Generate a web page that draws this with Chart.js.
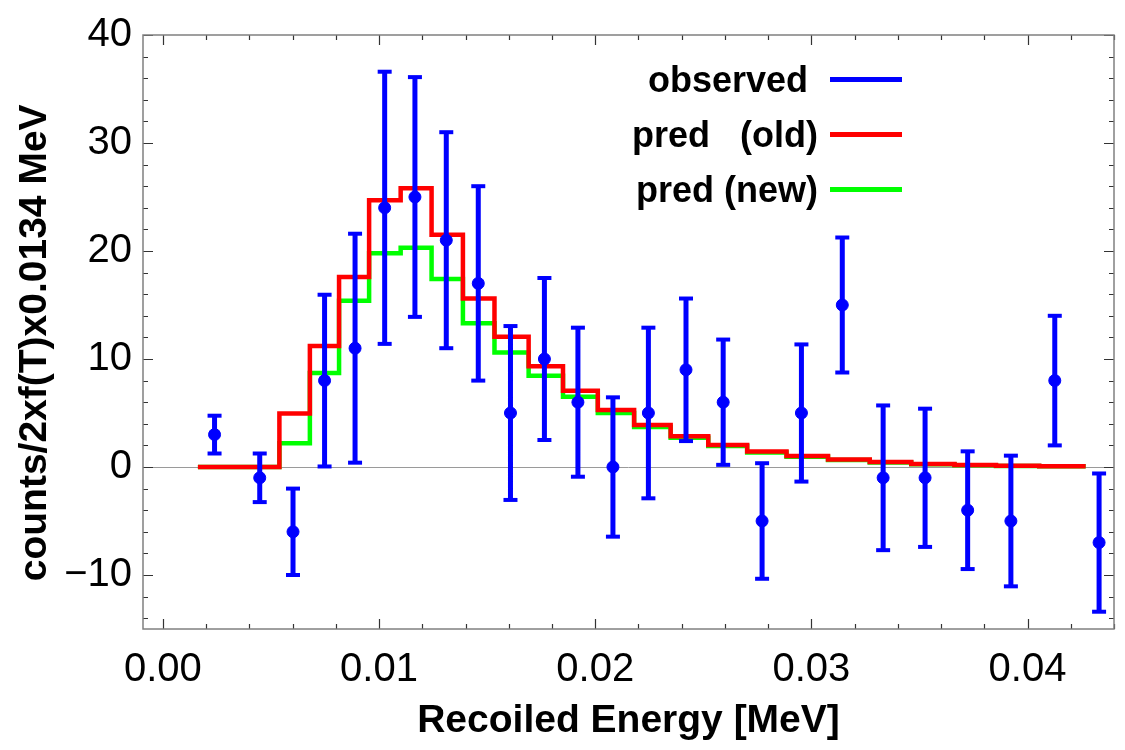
<!DOCTYPE html>
<html>
<head>
<meta charset="utf-8">
<title>Recoiled energy spectrum</title>
<script src="https://cdn.jsdelivr.net/npm/chart.js@4.4.1/dist/chart.umd.min.js"></script>
<style>
  body { margin: 0; background: #fff; }
  #wrap { position: relative; width: 1125px; height: 750px; }
  #legend {
    position: absolute; left: 520px; top: 52px; width: 382px;
    font: bold 36px "Liberation Sans", Arial, sans-serif; color: #000;
  }
  .row { display: flex; justify-content: flex-end; align-items: center; height: 55px; white-space: pre; }
  .swatch { width: 72px; height: 5px; margin-left: 12px; }
</style>
</head>
<body>
<div id="wrap">
  <canvas id="spectrum" width="1125" height="750"></canvas>
  <div id="legend"></div>
</div>
<script>
// observed counts per bin (centre energy in MeV) with their error bars
const obsEnergy = [0.00239, 0.00448, 0.00602, 0.00748, 0.00889, 0.01026, 0.01166, 0.01311, 0.01459, 0.01608,
                   0.01765, 0.0192, 0.02082, 0.02246, 0.0242, 0.02592, 0.02772, 0.02954, 0.03143, 0.03332,
                   0.03526, 0.03723, 0.03923, 0.04126, 0.04331];
const obsCounts = [3, -1, -6, 8, 11, 24, 25, 21, 17, 5, 10, 6, 0, 5, 9, 6, -5, 5, 15, -1, -1, -4, -5, 8, -7];
const obsError  = [1.75, 2.25, 4, 7.95, 10.6, 12.6, 11.1, 10, 9, 8.05, 7.5, 6.9, 6.45, 7.9, 6.6, 5.8, 5.35,
                   6.35, 6.25, 6.7, 6.4, 5.45, 6.05, 6, 6.4];

// predictions, one value per bin between consecutive edges
const binEdges = [0.00162, 0.00343, 0.00539, 0.0068, 0.00815, 0.00954, 0.011, 0.01243, 0.01388, 0.01534,
                  0.01692, 0.01851, 0.02012, 0.0218, 0.02349, 0.02523, 0.02703, 0.02885, 0.03077, 0.0327,
                  0.03462, 0.03662, 0.03854, 0.04054, 0.04269];
const predOld = [0, 0, 4.95, 11.2, 17.6, 24.7, 25.8, 21.5, 15.6, 12.06, 9.34, 7.06, 5.27, 3.88, 2.85, 2.03,
                 1.43, 1.03, 0.7, 0.46, 0.28, 0.18, 0.12, 0.08];
const predNew = [0, 0, 2.2, 8.7, 15.4, 19.8, 20.3, 17.4, 13.3, 10.6, 8.45, 6.5, 5.0, 3.7, 2.7, 1.95, 1.35,
                 0.95, 0.65, 0.42, 0.26, 0.16, 0.1, 0.06];

const xMajorTicks = [0, 0.01, 0.02, 0.03, 0.04];
const yMajorTicks = [-10, 0, 10, 20, 30, 40];

const BLUE = 'rgb(0,0,255)', RED = 'rgb(255,0,0)', GREEN = 'rgb(0,255,0)';

// helpers to turn the arrays into chart points
function stepPoints(values) {
  const pts = values.map((v, i) => ({ x: binEdges[i], y: v }));
  pts.push({ x: binEdges[values.length], y: values[values.length - 1] });
  return pts;
}

function errorPoints() {
  const pts = [];
  obsEnergy.forEach((e, i) => {
    pts.push({ x: e, y: obsCounts[i] - obsError[i] });
    pts.push({ x: e, y: obsCounts[i] + obsError[i] });
    pts.push({ x: e, y: null });  // break the line between bars
  });
  return pts;
}

const isIn = (list, v) => list.some(t => Math.abs(t - v) < 1e-9);

// Mathematica-style frame with inward ticks on all four sides
const frameTicks = {
  id: 'frameTicks',
  beforeDatasetsDraw(chart) {
    const { ctx, chartArea: a, scales: { x, y } } = chart;
    ctx.save();
    ctx.strokeStyle = '#333';
    ctx.lineWidth = 1.2;
    ctx.beginPath();
    for (let i = Math.ceil(x.min / 0.002); i * 0.002 <= x.max + 1e-9; i++) {
      const px = Math.round(x.getPixelForValue(i * 0.002)) + 0.5;
      const len = i % 5 === 0 ? 10 : 5;
      ctx.moveTo(px, a.bottom); ctx.lineTo(px, a.bottom - len);
      ctx.moveTo(px, a.top); ctx.lineTo(px, a.top + len);
    }
    for (let j = Math.ceil(y.min / 2); j * 2 <= y.max; j++) {
      const py = Math.round(y.getPixelForValue(j * 2)) + 0.5;
      const len = j % 5 === 0 ? 10 : 5;
      ctx.moveTo(a.left, py); ctx.lineTo(a.left + len, py);
      ctx.moveTo(a.right, py); ctx.lineTo(a.right - len, py);
    }
    ctx.stroke();
    ctx.strokeStyle = '#808080';
    ctx.lineWidth = 1.5;
    ctx.strokeRect(a.left, a.top, a.right - a.left, a.bottom - a.top);
    ctx.restore();
  }
};

Chart.defaults.font.family = '"Liberation Sans", Arial, sans-serif';
Chart.defaults.color = '#000';

const ctx = document.getElementById('spectrum').getContext('2d');
const spectrumChart = new Chart(ctx, {
  type: 'line',
  data: {
    datasets: [
      {
        label: 'observed',
        data: obsEnergy.map((e, i) => ({ x: e, y: obsCounts[i] })),
        showLine: false,
        pointRadius: 6,
        pointBackgroundColor: BLUE,
        pointBorderColor: BLUE,
        borderColor: BLUE
      },
      {
        label: 'errors',
        data: errorPoints(),
        borderColor: BLUE,
        borderWidth: 5,
        spanGaps: false,
        pointStyle: 'line',
        pointRadius: 7,
        pointBorderWidth: 4,
        pointBorderColor: BLUE
      },
      {
        label: 'pred   (old)',
        data: stepPoints(predOld),
        stepped: 'before',
        borderColor: RED,
        borderWidth: 4.5,
        borderJoinStyle: 'miter',
        pointRadius: 0,
        fill: false
      },
      {
        label: 'pred (new)',
        data: stepPoints(predNew),
        stepped: 'before',
        borderColor: GREEN,
        borderWidth: 4.5,
        borderJoinStyle: 'miter',
        pointRadius: 0,
        fill: false
      }
    ]
  },
  options: {
    responsive: false,
    animation: false,
    layout: { padding: { top: 25, right: 8, left: 0, bottom: 0 } },
    plugins: { legend: { display: false }, tooltip: { enabled: false } },
    scales: {
      x: {
        type: 'linear',
        min: -0.00092,
        max: 0.044,
        border: { display: false },
        grid: { display: false },
        ticks: {
          stepSize: 0.002,
          includeBounds: false,
          autoSkip: false,
          maxRotation: 0,
          padding: 9,
          font: { size: 40 },
          callback: v => isIn(xMajorTicks, v) ? v.toFixed(2) : ''
        },
        title: {
          display: true,
          text: 'Recoiled Energy [MeV]',
          font: { size: 39, weight: 'bold' },
          padding: { top: 0, bottom: 5 }
        },
        afterFit(scale) { scale.height = 121; }
      },
      y: {
        type: 'linear',
        min: -15,
        max: 40,
        border: { display: false },
        grid: {
          drawTicks: false,
          lineWidth: 1,
          color: c => (c.tick && c.tick.value === 0) ? '#9a9a9a' : 'rgba(0,0,0,0)'
        },
        ticks: {
          stepSize: 2,
          includeBounds: false,
          autoSkip: false,
          padding: 11,
          font: { size: 40 },
          callback: v => isIn(yMajorTicks, v) ? (v < 0 ? '\u2212' + Math.abs(v) : String(v)) : ''
        },
        title: {
          display: true,
          text: 'counts/2xf(T)x0.0134 MeV  ',
          font: { size: 39, weight: 'bold' },
          padding: { top: 12, bottom: 0 }
        },
        afterFit(scale) { scale.width = 143; }
      }
    }
  },
  plugins: [frameTicks]
});

// legend: text on the left, line sample on the right
const legendItems = [
  { text: 'observed ', color: BLUE },
  { text: 'pred   (old)', color: RED },
  { text: 'pred (new)', color: GREEN }
];
document.getElementById('legend').innerHTML = legendItems.map(item =>
  `<div class="row"><span>${item.text}</span><span class="swatch" style="background:${item.color}"></span></div>`
).join('');
</script>
</body>
</html>
